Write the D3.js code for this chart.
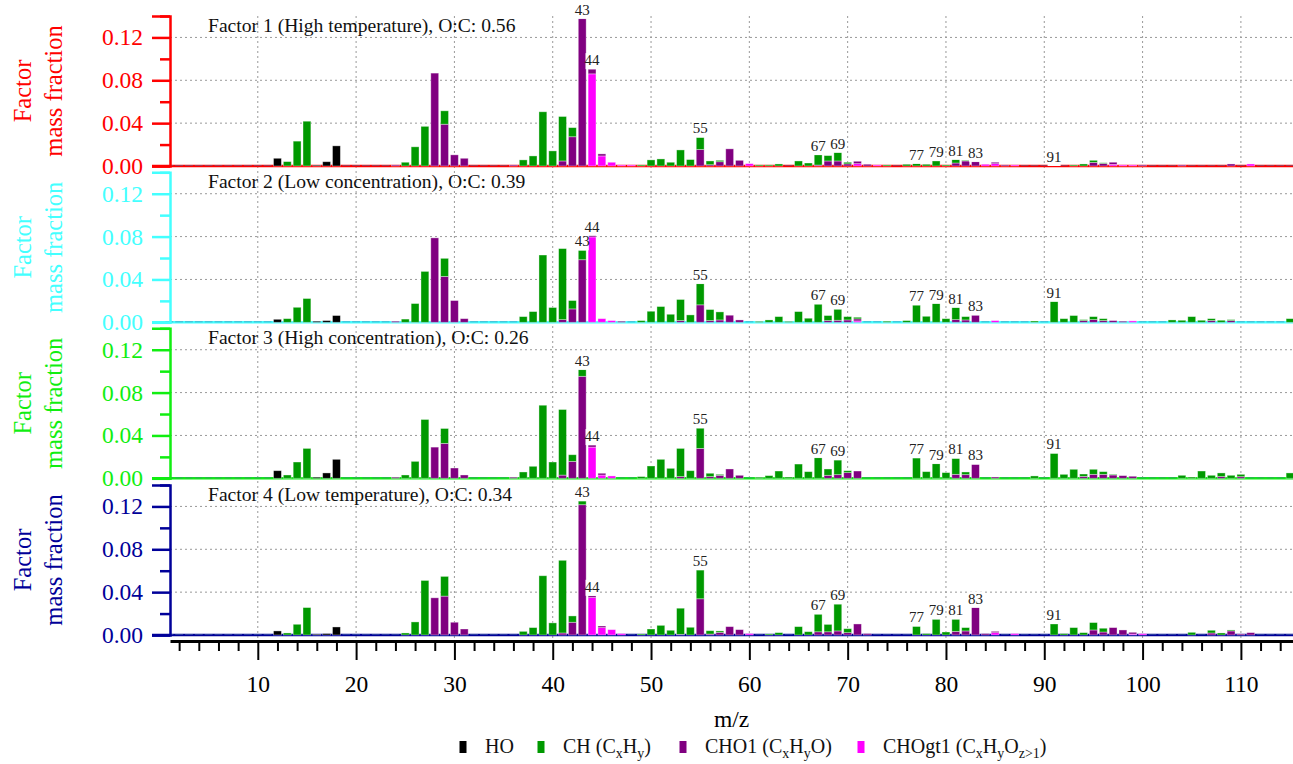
<!DOCTYPE html>
<html>
<head>
<meta charset="utf-8">
<script src="https://cdn.jsdelivr.net/npm/d3@7"></script>
<style>
  body { margin: 0; background: #fff; }
  svg text { font-family: "Liberation Serif", "Times New Roman", "DejaVu Serif", serif !important; }
</style>
</head>
<body>
<div id="ms-plot"></div>
<script>
// families: HO, CH (CxHy), CHO1 (CxHyO), CHOgt1 (CxHyOz>1); values are [m/z, mass fraction]
var titles = ["Factor 1 (High temperature), O:C: 0.56",
              "Factor 2 (Low concentration), O:C: 0.39",
              "Factor 3 (High concentration), O:C: 0.26",
              "Factor 4 (Low temperature), O:C: 0.34"];
var labelled = [43, 44, 55, 67, 69, 77, 79, 81, 83, 91];
var yTicks = [0, 0.04, 0.08, 0.12];

var f1HO = [[12,0.0072],[16,0.0008],[17,0.004],[18,0.0188]];
var f1CH = [[13,0.0041],[14,0.0232],[15,0.0418],[25,0.0035],[26,0.0179],[27,0.037],[29,0.0125],[37,0.0057],[38,0.0094],
  [39,0.0506],[40,0.0141],[41,0.0415],[42,0.0085],[49,0.001],[50,0.0057],[51,0.0066],[52,0.0035],[53,0.015],[54,0.006],
  [55,0.0113],[56,0.0035],[57,0.0013],[61,0.001],[62,0.001],[63,0.0019],[65,0.0047],[66,0.0028],[67,0.0095],[68,0.005],
  [69,0.0079],[70,0.0015],[74,0.001],[76,0.0016],[77,0.0022],[78,0.0016],[79,0.0047],[80,0.001],[81,0.0032],[82,0.0006],
  [93,0.001],[94,0.0019],[95,0.0019],[96,0.0006]];
var f1CHO1 = [[24,0.001],[28,0.0867],[29,0.039],[30,0.0104],[31,0.0072],[36,0.001],[41,0.0047],[42,0.0273],[43,0.1375],
  [44,0.0044],[45,0.0019],[55,0.0154],[56,0.0012],[57,0.004],[58,0.016],[59,0.0053],[67,0.0009],[68,0.0047],[69,0.0047],
  [70,0.002],[71,0.0022],[72,0.0016],[81,0.0028],[82,0.0047],[83,0.004],[85,0.0013],[86,0.001],[95,0.0034],[96,0.0024],
  [97,0.002],[100,0.001],[104,0.001],[109,0.0019]];
var f1CHOgt1 = [[44,0.086],[45,0.0094],[46,0.0035],[47,0.001],[48,0.001],[60,0.0022],[71,0.0022],[73,0.001],[84,0.0016],
  [85,0.0022],[87,0.001],[97,0.0015],[98,0.001],[99,0.001],[111,0.0019]];

var f2HO = [[12,0.0028],[16,0.001],[17,0.0016],[18,0.0063]];
var f2CH = [[13,0.0034],[14,0.014],[15,0.0222],[25,0.003],[26,0.0175],[27,0.0475],[29,0.0169],[37,0.0053],[38,0.01],
  [39,0.0628],[40,0.0138],[41,0.0663],[42,0.0078],[43,0.0088],[49,0.0016],[50,0.0103],[51,0.0147],[52,0.0075],[53,0.0197],
  [54,0.0069],[55,0.0197],[56,0.0103],[57,0.0075],[61,0.0008],[62,0.0022],[63,0.0053],[64,0.0008],[65,0.01],[66,0.0038],
  [67,0.0169],[68,0.0047],[69,0.0103],[70,0.0031],[71,0.0015],[74,0.001],[76,0.0016],[77,0.016],[78,0.0056],[79,0.0175],
  [80,0.0034],[81,0.0113],[82,0.0031],[89,0.0012],[91,0.0194],[92,0.0034],[93,0.0063],[94,0.0009],[95,0.0028],[96,0.0018],
  [103,0.0022],[104,0.0019],[105,0.0053],[106,0.0019],[107,0.0018],[108,0.0019],[109,0.0009],[115,0.0034]];
var f2CHO1 = [[24,0.001],[28,0.0788],[29,0.0428],[30,0.0203],[31,0.0034],[41,0.0025],[42,0.0125],[43,0.0584],[44,0.0013],
  [47,0.001],[53,0.0016],[55,0.0163],[56,0.0016],[57,0.0022],[58,0.0066],[59,0.0022],[68,0.0016],[69,0.0019],[70,0.0022],
  [71,0.0019],[81,0.0025],[82,0.0022],[83,0.0066],[94,0.0016],[95,0.0025],[96,0.0016],[97,0.0016],[98,0.001],[107,0.0016],
  [109,0.0016]];
var f2CHOgt1 = [[44,0.0797],[45,0.0034],[46,0.0016],[71,0.0013],[85,0.0016],[99,0.0013]];

var f3HO = [[12,0.0071],[16,0.001],[17,0.005],[18,0.0177]];
var f3CH = [[13,0.0031],[14,0.0152],[15,0.0279],[25,0.0031],[26,0.0158],[27,0.0549],[29,0.0139],[37,0.0059],[38,0.0112],
  [39,0.0682],[40,0.0152],[41,0.0612],[42,0.0062],[43,0.0062],[49,0.0016],[50,0.0115],[51,0.0177],[52,0.0093],[53,0.0263],
  [54,0.0071],[55,0.0189],[56,0.0031],[57,0.0009],[61,0.001],[62,0.0025],[63,0.0068],[64,0.0012],[65,0.0133],[66,0.0062],
  [67,0.0192],[68,0.0059],[69,0.0136],[70,0.0018],[77,0.0189],[78,0.0062],[79,0.0136],[80,0.0053],[81,0.0149],[82,0.0025],
  [89,0.0022],[91,0.0233],[92,0.0037],[93,0.0084],[94,0.0022],[95,0.0047],[96,0.0025],[97,0.0006],[104,0.0028],[105,0.0012],
  [106,0.0068],[107,0.0028],[108,0.0034],[109,0.0028],[110,0.0022],[115,0.005]];
var f3CHO1 = [[24,0.001],[28,0.0291],[29,0.0326],[30,0.0096],[31,0.0031],[36,0.001],[41,0.003],[42,0.0158],[43,0.0952],
  [44,0.0019],[45,0.0017],[53,0.0016],[55,0.0279],[56,0.0016],[57,0.0028],[58,0.0087],[59,0.0028],[68,0.0028],[69,0.0034],
  [70,0.0053],[71,0.0068],[81,0.0037],[82,0.0034],[83,0.013],[85,0.0012],[94,0.0018],[95,0.0037],[96,0.0037],[97,0.0031],
  [98,0.0025],[99,0.0019],[108,0.0016],[110,0.0015]];
var f3CHOgt1 = [[44,0.0291],[45,0.003],[46,0.0022]];

var f4HO = [[12,0.0038],[16,0.0008],[17,0.0013],[18,0.0075]];
var f4CH = [[13,0.0019],[14,0.01],[15,0.0256],[25,0.0019],[26,0.0122],[27,0.0509],[29,0.0184],[37,0.0034],[38,0.0069],
  [39,0.0553],[40,0.0113],[41,0.0678],[42,0.0059],[43,0.0034],[49,0.001],[50,0.0056],[51,0.009],[52,0.0044],[53,0.0244],
  [54,0.0072],[55,0.0268],[56,0.0031],[57,0.0013],[62,0.001],[63,0.0022],[65,0.0078],[66,0.0031],[67,0.0164],[68,0.0069],
  [69,0.025],[70,0.0037],[77,0.0081],[78,0.0013],[79,0.0147],[80,0.0028],[81,0.0113],[82,0.0031],[91,0.0103],[92,0.0013],
  [93,0.0069],[94,0.0022],[95,0.0069],[96,0.0035],[105,0.0025],[107,0.0025],[108,0.0019],[109,0.0009]];
var f4CHO1 = [[28,0.0347],[29,0.0363],[30,0.0119],[31,0.0056],[41,0.0019],[42,0.0119],[43,0.1216],[44,0.0016],[45,0.0015],
  [53,0.0006],[55,0.0338],[56,0.0009],[57,0.0025],[58,0.0078],[59,0.005],[67,0.003],[68,0.003],[69,0.0038],[70,0.0022],
  [71,0.0103],[72,0.0013],[81,0.0034],[82,0.0038],[83,0.0256],[84,0.0013],[85,0.0012],[95,0.0047],[96,0.0028],[97,0.0069],
  [98,0.0047],[99,0.0016],[107,0.0019],[109,0.0038],[110,0.001],[111,0.0022]];
var f4CHOgt1 = [[44,0.035],[45,0.0069],[46,0.005],[47,0.0013],[60,0.0013],[85,0.0022],[87,0.0013],[99,0.0009],[100,0.0012]];

var factors = [
  {HO: f1HO, CH: f1CH, CHO1: f1CHO1, CHOgt1: f1CHOgt1},
  {HO: f2HO, CH: f2CH, CHO1: f2CHO1, CHOgt1: f2CHOgt1},
  {HO: f3HO, CH: f3CH, CHO1: f3CHO1, CHOgt1: f3CHOgt1},
  {HO: f4HO, CH: f4CH, CHO1: f4CHO1, CHOgt1: f4CHOgt1}
];

// stacking order, bottom to top
var keys = ["HO", "CHOgt1", "CHO1", "CH"];
var famColor = {HO: "#000000", CH: "#009900", CHO1: "#800080", CHOgt1: "#ff00ff"};
var panelColor = ["#ff0000", "#44ffff", "#11ee11", "#000099"];

var width = 1293, height = 764
  , left = 170, right = 1293
  , zeros = [166, 322.3, 478.3, 635]
  , ph = 150
  , axisY = 641;

var svg = d3.select("#ms-plot").append("svg").attr("width", width).attr("height", height);

var x = d3.scaleLinear().domain([1.07, 115.3]).range([left, right]);
var bw = 0.8 * (x(1) - x(0));
var mzAll = d3.range(1, 116);

// vertical grid through all panels
svg.append("g").selectAll("line").data(d3.range(10, 115, 10)).join("line")
  .attr("x1", d => x(d)).attr("x2", d => x(d))
  .attr("y1", zeros[0] - ph).attr("y2", axisY)
  .attr("stroke", "#999").attr("stroke-width", 1).attr("stroke-dasharray", "2,3");

factors.forEach(function (f, i) {
  var z = zeros[i], col = panelColor[i];
  var y = d3.scaleLinear().domain([0, 0.14]).range([z, z - ph]);
  var g = svg.append("g");

  // horizontal grid
  g.append("g").selectAll("line").data(yTicks.slice(1)).join("line")
    .attr("x1", left).attr("x2", right).attr("y1", d => y(d)).attr("y2", d => y(d))
    .attr("stroke", "#999").attr("stroke-width", 1).attr("stroke-dasharray", "2,3");

  // table for stacking
  var rows = mzAll.map(function (m) {
    var r = {mz: m};
    keys.forEach(function (k) {
      var hit = f[k].find(p => p[0] === m);
      r[k] = hit ? hit[1] : 0;
    });
    return r;
  });
  var series = d3.stack().keys(keys)(rows);

  // baseline in axis colour
  g.append("line").attr("x1", left - 18).attr("x2", right).attr("y1", z).attr("y2", z)
    .attr("stroke", col).attr("stroke-width", 2.5);
  // zero-height bar outlines
  g.append("g").selectAll("line").data(rows).join("line")
    .attr("x1", d => x(d.mz) - bw / 2).attr("x2", d => x(d.mz) + bw / 2)
    .attr("y1", z - 0.5).attr("y2", z - 0.5)
    .attr("stroke", "#4a6fa5").attr("stroke-opacity", 0.55).attr("stroke-width", 1);

  g.append("g").selectAll("g").data(series).join("g")
    .attr("fill", d => famColor[d.key])
    .selectAll("rect").data(d => d.filter(s => s[1] - s[0] > 0)).join("rect")
      .attr("x", d => x(d.data.mz) - bw / 2)
      .attr("width", bw)
      .attr("y", d => y(d[1]))
      .attr("height", d => y(d[0]) - y(d[1]))
      .attr("stroke", "rgba(255,255,255,0.45)").attr("stroke-width", 0.8);

  // peak labels
  var lab = g.append("g").selectAll("g").data(labelled).join("g")
    .attr("transform", function (m) {
      var r = rows[m - 1], tot = keys.reduce((a, k) => a + r[k], 0);
      return "translate(" + x(m) + "," + (y(tot) - 4) + ")";
    });
  lab.append("rect").attr("x", -6.5).attr("y", -12).attr("width", 13).attr("height", 16).attr("fill", "#fff");
  lab.append("text").attr("text-anchor", "middle").attr("font-size", 15).attr("fill", "#222")
    .text(d => d);

  // panel title
  g.append("text").attr("x", 208).attr("y", z - ph + 16).attr("font-size", 19.6).attr("fill", "#111")
    .text(titles[i]);

  // left axis
  var ax = g.append("g").attr("transform", "translate(" + left + ",0)")
    .call(d3.axisLeft(y).tickValues(yTicks).tickSize(18).tickFormat(d3.format(".2f")));
  g.append("g").attr("transform", "translate(" + left + ",0)")
    .call(d3.axisLeft(y).tickValues([0.02, 0.06, 0.10, 0.14]).tickSize(10).tickFormat(""))
    .call(s => s.select(".domain").remove());
  g.selectAll(".tick line").attr("stroke", col).attr("stroke-width", 2.5);
  ax.select(".domain").attr("stroke", col).attr("stroke-width", 2.5);
  ax.selectAll(".tick text").attr("fill", col).attr("font-size", 23.5).attr("x", -27);

  // y title
  var yt = g.append("text").attr("transform", "translate(0," + (z - ph / 2) + ") rotate(-90)")
    .attr("text-anchor", "middle").attr("fill", col).attr("font-size", 24.5);
  yt.append("tspan").attr("x", 0).attr("y", 22).attr("dy", "0.35em").text("Factor");
  yt.append("tspan").attr("x", 0).attr("y", 53).attr("dy", "0.35em").text("mass fraction");
});

// x axis
var xa = svg.append("g").attr("transform", "translate(0," + axisY + ")");
xa.call(d3.axisBottom(x).tickValues(d3.range(10, 115, 10)).tickSize(19).tickSizeOuter(0).tickFormat(d3.format("d")));
svg.append("g").attr("transform", "translate(0," + axisY + ")")
  .call(d3.axisBottom(x).tickValues(d3.range(2, 116, 2).filter(d => d % 10)).tickSize(10).tickSizeOuter(0).tickFormat(""))
  .call(s => s.select(".domain").remove())
  .selectAll(".tick line").attr("stroke", "#000").attr("stroke-width", 2);
xa.select(".domain").attr("stroke", "#000").attr("stroke-width", 3);
xa.selectAll(".tick line").attr("stroke", "#000").attr("stroke-width", 2);
xa.selectAll(".tick text").attr("font-size", 23.5).attr("fill", "#000").attr("y", 34);

svg.append("text").attr("x", (left + right) / 2).attr("y", 727).attr("text-anchor", "middle")
  .attr("font-size", 23.5).text("m/z");

// legend
var legend = [
  {key: "HO", x: 463, parts: [["HO"]]},
  {key: "CH", x: 541, parts: [["CH (C"], ["x", "sub"], ["H"], ["y", "sub"], [")"]]},
  {key: "CHO1", x: 683, parts: [["CHO1 (C"], ["x", "sub"], ["H"], ["y", "sub"], ["O)"]]},
  {key: "CHOgt1", x: 861, parts: [["CHOgt1 (C"], ["x", "sub"], ["H"], ["y", "sub"], ["O"], ["z>1", "sub"], [")"]]}
];
var lg = svg.append("g").selectAll("g").data(legend).join("g")
  .attr("transform", d => "translate(" + d.x + ",747)");
lg.append("rect").attr("x", -3.5).attr("y", -6).attr("width", 7).attr("height", 12).attr("fill", d => famColor[d.key]);
var lt = lg.append("text").attr("x", 22).attr("y", 6).attr("font-size", 20).attr("fill", "#111");
lt.each(function (d) {
  var t = d3.select(this);
  d.parts.forEach(function (p) {
    var s = t.append("tspan").text(p[0]);
    if (p[1] === "sub") s.attr("font-size", 14).attr("dy", 5);
    else if (t.selectAll("tspan").size() > 1) s.attr("dy", -5);
  });
});
</script>
</body>
</html>
